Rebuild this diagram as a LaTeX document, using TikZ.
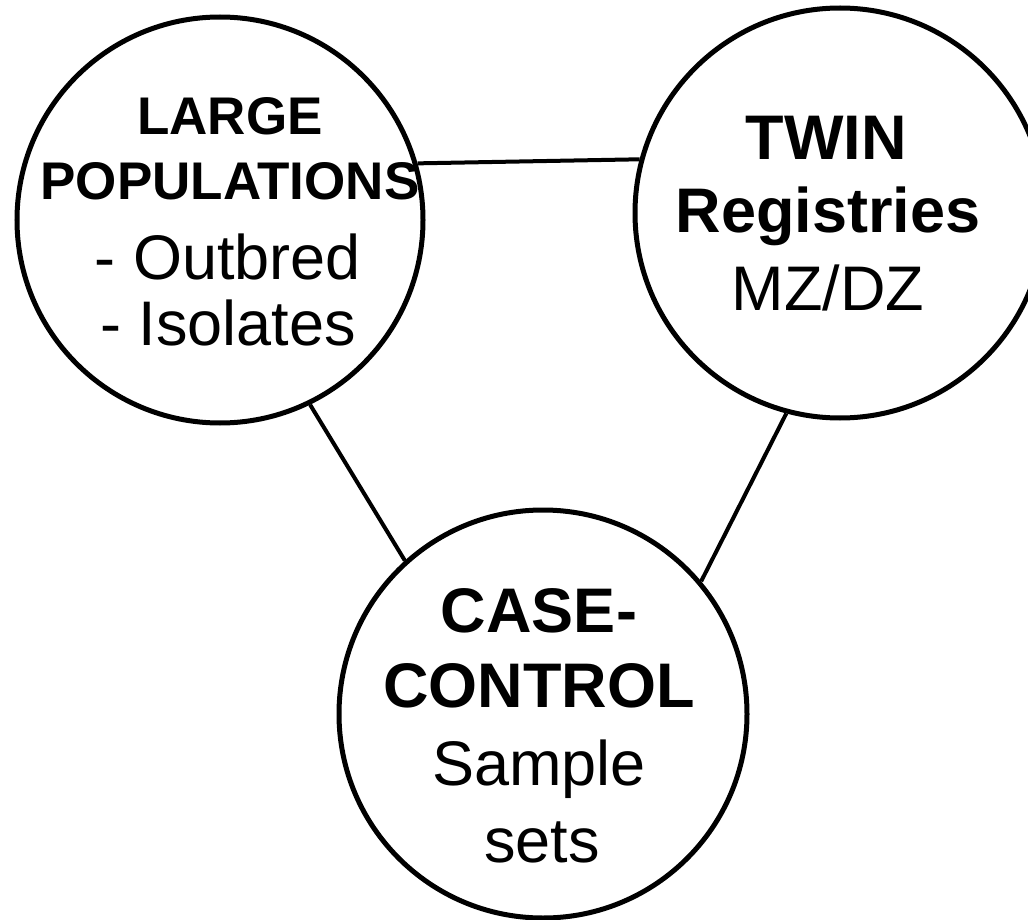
\documentclass[tikz,border=0pt]{standalone}
\usepackage{fontspec}
\setmainfont{Liberation Sans}
\begin{document}
\begin{tikzpicture}[x=1pt,y=-1pt,
  circ/.style={draw=black, line width=5pt, circle, inner sep=0pt, fill=none},
  link/.style={draw=black, line width=4pt},
  txt/.style={anchor=base, inner sep=0pt, text=black},
  bigb/.style={font=\fontsize{63}{75}\selectfont\bfseries},
  bigr/.style={font=\fontsize{63}{75}\selectfont},
  midb/.style={font=\fontsize{53}{62}\selectfont\bfseries}]
\useasboundingbox (0,0) rectangle (1028,920);
% circles
\node[circ, minimum size=406pt] (L) at (220,220) {};
\node[circ, minimum size=410pt] (R) at (840,213) {};
\node[circ, minimum size=408pt] (B) at (543,714) {};
% connectors
\draw[link] (L.16.5) -- (R.165);
\draw[link] (L.-64) -- (B.132);
\draw[link] (R.-105) -- (B.40.5);
% left texts
\node[txt, midb] (L1) at (230,135) {LARGE};
\node[txt, midb] (L2) at (230,200) {POPULATIONS};
\node[txt, bigr] (L3) at (228,279) {- Outbred};
\node[txt, bigr] (L4) at (228,345) {- Isolates};
% right texts
\node[txt, bigb] (R1) at (826,160) {TWIN};
\node[txt, bigb] (R2) at (828,233) {Registries};
\node[txt, bigr] (R3) at (828,310) {MZ/DZ};
% bottom texts
\node[txt, bigb] (B1) at (539,632) {CASE-};
\node[txt, bigb] (B2) at (539,707) {CONTROL};
\node[txt, bigr] (B3) at (539,785) {Sample};
\node[txt, bigr] (B4) at (542,862) {sets};
\end{tikzpicture}
\end{document}
